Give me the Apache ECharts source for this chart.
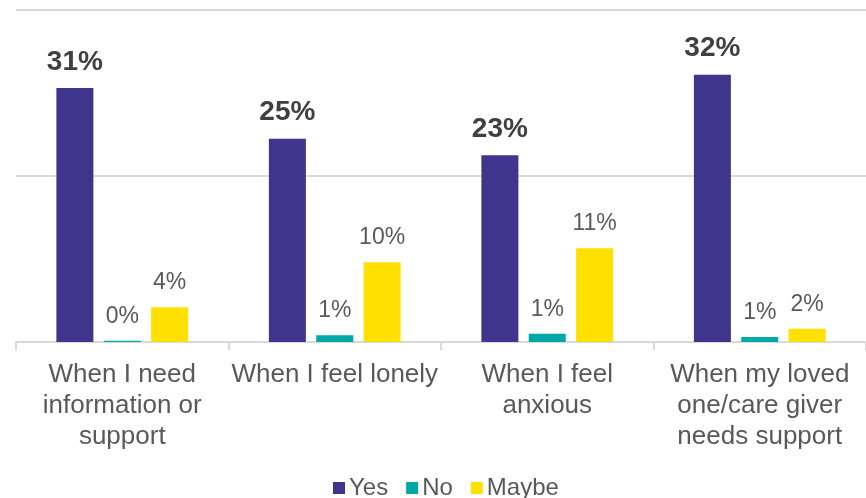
<!DOCTYPE html>
<html><head><meta charset="utf-8">
<script src="https://cdn.jsdelivr.net/npm/echarts@6/dist/echarts.min.js"></script>
<style>html,body{margin:0;padding:0;background:#fff}#c{width:866px;height:498px}</style>
</head><body><div id="c"></div>
<script>
const categories = ['When I need\ninformation or\nsupport', 'When I feel lonely', 'When I feel\nanxious', 'When my loved\none/care giver\nneeds support'];
const yesValues = [30.6, 24.5, 22.5, 32.2];
const noValues = [0.15, 0.8, 1.0, 0.6];
const maybeValues = [4.2, 9.6, 11.3, 1.6];
const yesLabels = ['31%', '25%', '23%', '32%'];
const noLabels = ['0%', '1%', '1%', '1%'];
const maybeLabels = ['4%', '10%', '11%', '2%'];

const font = 'Liberation Sans, Arial, sans-serif';
const chart = echarts.init(document.getElementById('c'));
function lbl(labels, bold, size, color, dist) {
  return {show: true, position: 'top', distance: dist, fontFamily: font, fontSize: size,
    fontWeight: bold ? 'bold' : 'normal', color: color,
    formatter: p => labels[p.dataIndex]};
}
chart.setOption({
  animation: false,
  grid: {left: 16, right: -6, top: 10, bottom: 156},
  legend: {bottom: -7, left: 328, icon: 'rect', itemWidth: 12, itemHeight: 12, itemGap: 18,
    textStyle: {fontFamily: font, fontSize: 24, color: '#595959', padding: [0, 0, 0, -1]},
    data: ['Yes', 'No', 'Maybe']},
  xAxis: {type: 'category', data: categories,
    axisLine: {lineStyle: {color: '#d9d9d9', width: 2}},
    axisTick: {show: true, length: 8, lineStyle: {color: '#d9d9d9', width: 2}},
    axisLabel: {fontFamily: font, fontSize: 26, color: '#595959', lineHeight: 31, margin: 17, interval: 0}},
  yAxis: {type: 'value', min: 0, max: 40, interval: 20,
    axisLabel: {show: false}, axisLine: {show: false}, axisTick: {show: false},
    splitLine: {lineStyle: {color: '#d9d9d9', width: 2}}},
  series: [
    {name: 'Yes', type: 'bar', data: yesValues, barWidth: 37, barGap: '28%',
     itemStyle: {color: '#3f358c'}, label: lbl(yesLabels, true, 28, '#404040', 12)},
    {name: 'No', type: 'bar', data: noValues, barWidth: 37,
     itemStyle: {color: '#00a9a5'}, label: lbl(noLabels, false, 23, '#595959', 13)},
    {name: 'Maybe', type: 'bar', data: maybeValues, barWidth: 37,
     itemStyle: {color: '#ffe000'}, label: lbl(maybeLabels, false, 23, '#595959', 13)}
  ]
});
</script></body></html>
